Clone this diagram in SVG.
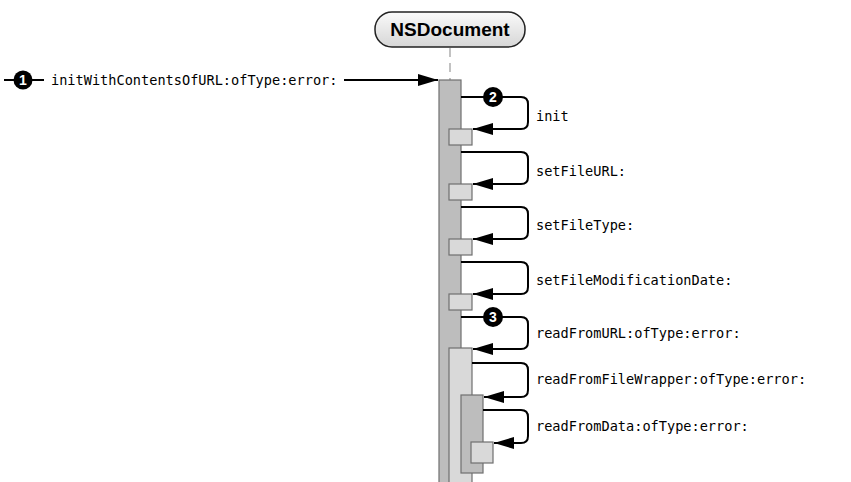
<svg xmlns="http://www.w3.org/2000/svg" width="851" height="482" viewBox="0 0 851 482">
<defs>
<linearGradient id="g" x1="0" y1="0" x2="0" y2="1">
<stop offset="0" stop-color="#fafafa"/>
<stop offset="1" stop-color="#d6d6d6"/>
</linearGradient>
<marker id="ah" viewBox="0 0 20 12" refX="20" refY="6" markerWidth="20" markerHeight="12" markerUnits="userSpaceOnUse" orient="auto">
<path d="M0,0 L20,6 L0,12 Z" fill="#000"/>
</marker>
</defs>
<style>
.lbl{font-family:"DejaVu Sans Mono","Liberation Mono",monospace;font-size:13.6px;fill:#000}
.bar{fill:#bdbdbd;stroke:#6f6f6f;stroke-width:1.2}
.lt{fill:#d9d9d9;stroke:#6f6f6f;stroke-width:1.2}
.msg{fill:none;stroke:#000;stroke-width:2;marker-end:url(#ah)}
.num{font-family:"Liberation Sans",Arial,sans-serif;font-weight:bold;font-size:14px;fill:#fff;text-anchor:middle}
</style>
<g id="NSDocument">
<rect x="375" y="12" width="150" height="35" rx="17" ry="17" fill="url(#g)" stroke="#222" stroke-width="1.5"/>
<text x="450" y="36" text-anchor="middle" font-family="Liberation Sans,Arial,sans-serif" font-weight="bold" font-size="19" fill="#000">NSDocument</text>
<line x1="450" y1="48" x2="450" y2="80" stroke="#999" stroke-width="1.2" stroke-dasharray="9,6"/>
</g>
<g id="activations">
<rect class="bar" x="439" y="80" width="22" height="410"/>
<rect class="lt" x="449" y="129" width="23" height="16"/>
<rect class="lt" x="449" y="184" width="23" height="16"/>
<rect class="lt" x="449" y="239" width="23" height="16"/>
<rect class="lt" x="449" y="294" width="23" height="16"/>
<rect class="lt" x="449" y="348" width="23" height="140"/>
<rect class="bar" x="461" y="395" width="22" height="78"/>
<rect class="lt" x="471" y="442" width="22" height="21"/>
</g>
<g id="connectors">
<line x1="4" y1="80" x2="44" y2="80" stroke="#000" stroke-width="2"/>
<path class="msg" d="M344,80 H438"/>
<path class="msg" d="M461,97 H521 Q528,97 528,104 V122 Q528,129 521,129 H473"/>
<path class="msg" d="M461,152 H521 Q528,152 528,159 V177 Q528,184 521,184 H473"/>
<path class="msg" d="M461,207 H521 Q528,207 528,214 V232 Q528,239 521,239 H473"/>
<path class="msg" d="M461,262 H521 Q528,262 528,269 V287 Q528,294 521,294 H473"/>
<path class="msg" d="M461,317 H521 Q528,317 528,324 V342 Q528,349 521,349 H473"/>
<path class="msg" d="M472,363 H521 Q528,363 528,370 V390 Q528,397 521,397 H484"/>
<path class="msg" d="M483,410 H521 Q528,410 528,417 V436 Q528,443 521,443 H494"/>
</g>
<g id="steps">
<circle cx="23" cy="80" r="9.5" fill="#000"/>
<text class="num" x="23" y="85">1</text>
<circle cx="493" cy="97" r="10" fill="#000"/>
<text class="num" x="493" y="102">2</text>
<circle cx="493" cy="317" r="10" fill="#000"/>
<text class="num" x="493" y="322">3</text>
</g>
<g id="labels">
<text class="lbl" x="51" y="85">initWithContentsOfURL:ofType:error:</text>
<text class="lbl" x="536" y="121">init</text>
<text class="lbl" x="536" y="176">setFileURL:</text>
<text class="lbl" x="536" y="230">setFileType:</text>
<text class="lbl" x="536" y="285">setFileModificationDate:</text>
<text class="lbl" x="536" y="338">readFromURL:ofType:error:</text>
<text class="lbl" x="536" y="384">readFromFileWrapper:ofType:error:</text>
<text class="lbl" x="536" y="431">readFromData:ofType:error:</text>
</g>
</svg>
